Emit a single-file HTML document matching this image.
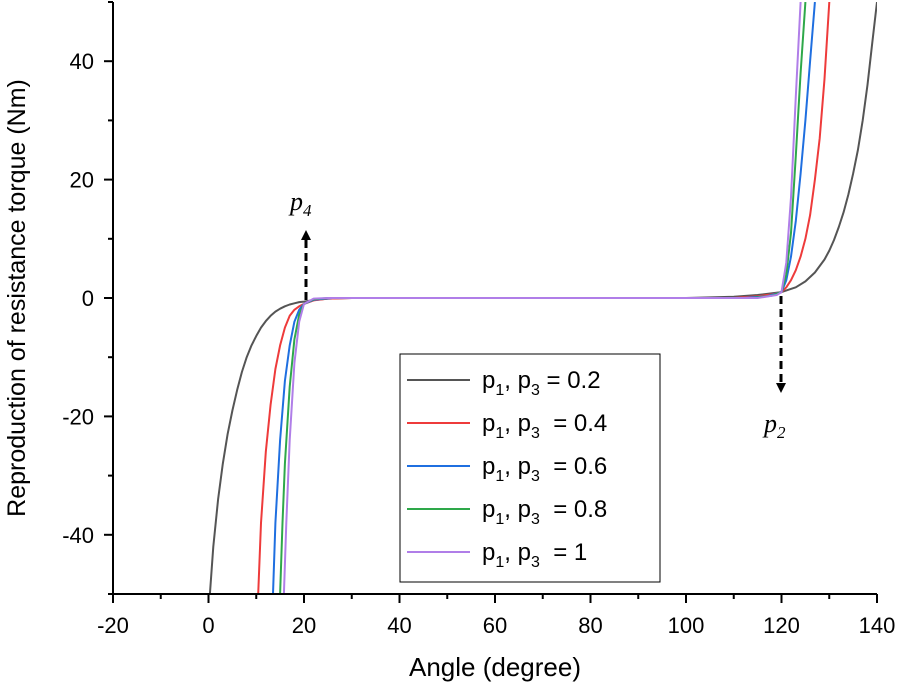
<!DOCTYPE html>
<html><head><meta charset="utf-8"><style>
body{margin:0;background:#fff;width:898px;height:687px;overflow:hidden}
svg{font-family:"Liberation Sans",sans-serif}
</style></head><body>
<svg id="chart" width="898" height="687" viewBox="0 0 898 687" xmlns="http://www.w3.org/2000/svg"></svg>
<script>
const seriesValues=["0.2","0.4","0.6","0.8","1"];
const seriesColors=["#555555","#ee3b3b","#1f6fe0","#2ea84a","#b07ee8"];
const xTicks=[-20,0,20,40,60,80,100,120,140];
const yTicks=[-40,-20,0,20,40];
const s02=[[0.3,-50],[1,-42],[2,-34],[3,-28],[4,-23],[5,-19],[6,-15.5],[7,-12.5],[8,-10],[9,-8],[10,-6.4],[11,-5],[12,-3.9],[13,-3],[14,-2.3],[15,-1.8],[16,-1.4],[17,-1.1],[18,-0.9],[19,-0.7],[20,-0.6],[22,-0.35],[25,-0.1],[30,0],[100,0],[110,0.2],[115,0.5],[120,1],[123,1.8],[125,2.8],[127,4.3],[129,6.5],[130,8],[131,9.8],[132,12],[133,14.5],[134,17.5],[135,21],[136,25],[137,30],[138,36],[139,43],[140,50]];
const s04=[[10.4,-50],[11,-38],[12,-26],[13,-18],[14,-12],[15,-8],[16,-5],[17,-3],[18,-2],[19,-1.4],[20,-1],[22,-0.4],[25,-0.1],[30,0],[110,0],[115,0.3],[118,0.6],[120,1],[121,1.8],[122,3],[123,4.7],[124,7],[125,10],[126,14],[127,20],[128,27],[129,37],[130,50]];
const s06=[[13.5,-50],[14,-38],[15,-24],[16,-14],[17,-8],[18,-4],[19,-2],[20,-1],[22,-0.3],[26,0],[112,0],[117,0.3],[120,1],[121,3],[122,7],[123,13],[124,21],[125,30],[126,40],[127,50]];
const s08=[[15,-50],[15.5,-38],[16,-28],[17,-15],[18,-7],[19,-2.8],[20,-1],[22,-0.2],[25,0],[114,0],[118,0.4],[120,1],[121,4],[122,11],[123,24],[124,38],[125,50]];
const s10=[[15.8,-50],[16.3,-38],[17,-24],[18,-11],[19,-4],[20,-1],[22,-0.1],[25,0],[115,0],[119,0.5],[120,1],[121,6],[122,17],[123,34],[124,50]];
const seriesData=[s02,s04,s06,s08,s10];

const L=113,R=877,T=2,B=594;
const X=v=>L+(v+20)/160*(R-L);
const Y=v=>B-(v+50)/100*(B-T);
const svg=document.getElementById('chart');
const NS="http://www.w3.org/2000/svg";
function mk(tag,attrs,parent){const e=document.createElementNS(NS,tag);for(const k in attrs)e.setAttribute(k,attrs[k]);(parent||svg).appendChild(e);return e;}

const clip=mk('clipPath',{id:'pc'});mk('rect',{x:L,y:T,width:R-L,height:B-T},clip);
const g=mk('g',{'clip-path':'url(#pc)'});


seriesData.forEach((d,i)=>{
  const p=mk('polyline',{points:d.map(q=>X(q[0]).toFixed(1)+','+Y(q[1]).toFixed(1)).join(' '),fill:'none',stroke:seriesColors[i],'stroke-width':2,'stroke-linejoin':'round'},g);
  
  
});

const ax=mk('g',{stroke:'#000','stroke-width':2});


mk('line',{x1:L,y1:B,x2:R,y2:B},ax);
mk('line',{x1:L,y1:T,x2:L,y2:B},ax);
for(let v=-20;v<=140;v+=10){const maj=v%20===0;mk('line',{x1:X(v),y1:B,x2:X(v),y2:B+(maj?9:5)},ax);}
for(let v=-50;v<=50;v+=10){const maj=v%20===0;mk('line',{x1:L,y1:Y(v),x2:L-(maj?9:5),y2:Y(v)},ax);}
xTicks.forEach(v=>{const t=mk('text',{x:X(v),y:B+39,'font-size':22,'text-anchor':'middle'});t.textContent=v;

});
yTicks.forEach(v=>{const t=mk('text',{x:L-19,y:Y(v)+8,'font-size':22,'text-anchor':'end'});t.textContent=v;

});
const xt=mk('text',{x:495,y:676,'font-size':26,'text-anchor':'middle'});xt.textContent='Angle (degree)';


const yt=mk('text',{x:0,y:0,'font-size':25,'text-anchor':'middle',transform:'translate(25,298) rotate(-90)'});yt.textContent='Reproduction of resistance torque (Nm)';



function arrow(x,y1,y2,name){
  const a=mk('g',{});
  
  
  const dir=y2<y1?-1:1;
  mk('line',{x1:x,y1:y1,x2:x,y2:y2-dir*8,stroke:'#000','stroke-width':3,'stroke-dasharray':'8,5'},a);
  mk('polygon',{points:`${x-5},${y2-dir*10} ${x+5},${y2-dir*10} ${x},${y2}`,fill:'#000'},a);
}
arrow(306,300,230,'p4-arrow');
arrow(781,296,393,'p2-arrow');
const p4=mk('text',{x:290,y:210,'font-size':26,'font-style':'italic','font-family':'Liberation Serif,serif'});
p4.innerHTML='p<tspan font-size="17" dy="6">4</tspan>';


const p2=mk('text',{x:764,y:432,'font-size':26,'font-style':'italic','font-family':'Liberation Serif,serif'});
p2.innerHTML='p<tspan font-size="17" dy="6">2</tspan>';



const lg=mk('g',{});


mk('rect',{x:400,y:354,width:260,height:228,fill:'#fff',stroke:'#000','stroke-width':1},lg);
seriesValues.forEach((s,i)=>{
  const y=380+i*43;
  const e=mk('g',{},lg);
  
  
  mk('line',{x1:407,y1:y,x2:470,y2:y,stroke:seriesColors[i],'stroke-width':2},e);
  const t=mk('text',{x:482,y:y+8,'font-size':24},e);
  const gap=i===0?' ':'\u00a0\u00a0';
  t.innerHTML='p<tspan font-size="16" dy="7">1</tspan><tspan dy="-7">, p</tspan><tspan font-size="16" dy="7">3</tspan><tspan dy="-7">'+gap+'= '+s+'</tspan>';
});
</script>
</body></html>
